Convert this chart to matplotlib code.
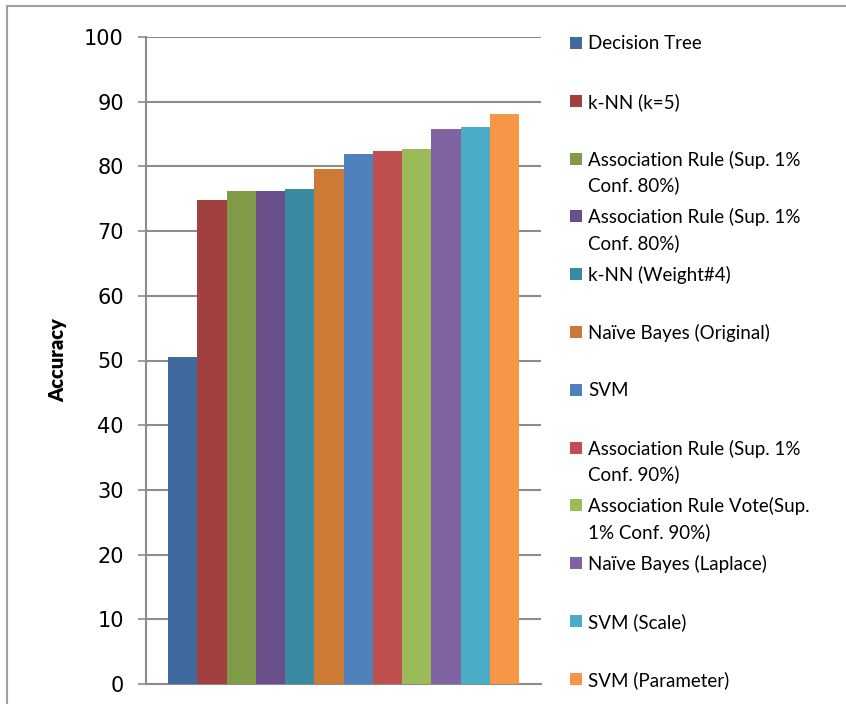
import matplotlib
matplotlib.use("Agg")
import matplotlib.pyplot as plt
from matplotlib.patches import Rectangle
from matplotlib.lines import Line2D

labels = [
    "Decision Tree",
    "k-NN (k=5)",
    "Association Rule (Sup. 1%\nConf. 80%)",
    "Association Rule (Sup. 1%\nConf. 80%)",
    "k-NN (Weight#4)",
    "Naïve Bayes (Original)",
    "SVM",
    "Association Rule (Sup. 1%\nConf. 90%)",
    "Association Rule Vote(Sup.\n1% Conf. 90%)",
    "Naïve Bayes (Laplace)",
    "SVM (Scale)",
    "SVM (Parameter)",
]
values = [50.6, 74.8, 76.2, 76.2, 76.5, 79.6, 81.9, 82.4, 82.7, 85.8, 86.1, 88.1]
colors = ["#3E6A9E", "#A1403E", "#7F9B48", "#6A508A", "#3A8BA2", "#CC7A36",
          "#4F81BD", "#C0504D", "#9BBB59", "#8064A2", "#4BACC6", "#F79646"]
yticks = [0, 10, 20, 30, 40, 50, 60, 70, 80, 90, 100]

W, H = 846, 706
fig = plt.figure(figsize=(W / 100, H / 100), dpi=100)
ax = fig.add_axes([146 / W, 1 - 684 / H, (541 - 146) / W, (684 - 37) / H])

n = len(values)
bw = 351 / 395 / n
start = -351 / 395 / 2
for i, (v, c) in enumerate(zip(values, colors)):
    ax.bar(start + (i + 0.5) * bw, v, width=bw, color=c, linewidth=0, zorder=3)

ax.set_xlim(-0.5, 0.5)
ax.set_ylim(0, 100)
ax.set_yticks(yticks)
ax.set_yticklabels([str(t) for t in yticks], fontsize=15, family="DejaVu Sans")
ax.set_xticks([])
grid_c = "#8C8C8C"
ax.yaxis.grid(True, color=grid_c, linewidth=1.5, zorder=0)
ax.tick_params(axis="y", length=6, width=1.2, color=grid_c, pad=10)
for s in ["top", "right"]:
    ax.spines[s].set_visible(False)
for s in ["left", "bottom"]:
    ax.spines[s].set_color(grid_c)
    ax.spines[s].set_linewidth(1.5)
ax.set_ylabel("Accuracy", fontsize=14.5, fontweight="heavy", family="Lato", labelpad=12)

# legend drawn manually to mimic the layout
top_y = 43
step = 57.8
for i, (lab, c) in enumerate(zip(labels, colors)):
    yc = top_y + i * step
    fig.patches.append(Rectangle((570 / W, 1 - (yc + 6) / H), 12 / W, 12 / H,
                                 transform=fig.transFigure, facecolor=c, edgecolor="none"))
    fig.text(588 / W, 1 - (yc - 8) / H, lab, fontsize=13.5, family="Lato",
             va="top", ha="left", linespacing=1.5, color="#000000")

# chart-area border (left and top visible)
fig.add_artist(Line2D([7 / W, 7 / W], [1 - 703 / H, 1 - 6 / H], transform=fig.transFigure,
                      color="#A0A0A0", linewidth=1.5))
fig.add_artist(Line2D([7 / W, 1], [1 - 6 / H, 1 - 6 / H], transform=fig.transFigure,
                      color="#A0A0A0", linewidth=1.5))

fig.savefig("out.png", dpi=100)
